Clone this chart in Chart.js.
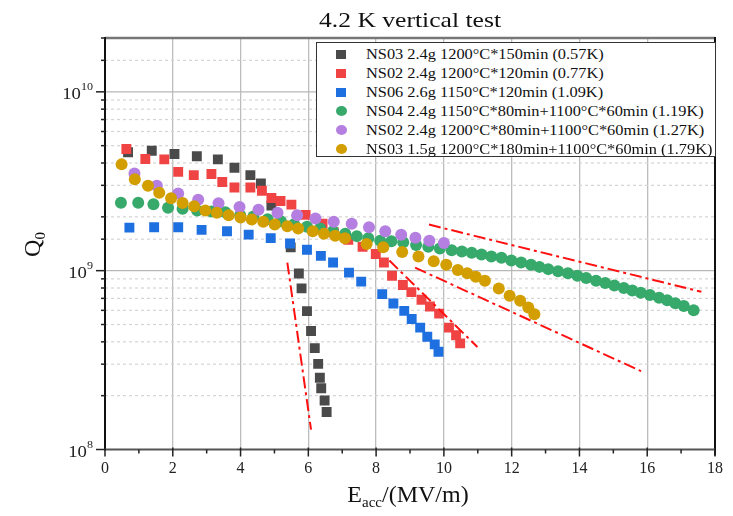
<!DOCTYPE html>
<html>
<head>
<meta charset="utf-8">
<script src="https://cdn.jsdelivr.net/npm/chart.js@4.4.0/dist/chart.umd.min.js"></script>
<style>
  body { margin: 0; background: #fff; }
  #wrap { position: relative; width: 733px; height: 516px; }
  #legend {
    position: absolute; left: 316px; top: 42px; width: 400px; height: 115px;
    border: 1px solid #333; background: #fff; box-sizing: border-box;
    font-family: "Liberation Serif", serif; font-size: 15px; color: #111;
    padding-top: 2px;
  }
  .row { position: relative; height: 19px; line-height: 19px; }
  .mk { position: absolute; left: 19px; top: 5px; width: 10px; height: 9px; }
  .mk.c { border-radius: 50%; width: 11px; height: 10px; top: 4px; }
  .tx { position: absolute; left: 49px; white-space: nowrap; transform: scaleX(1.09); transform-origin: left center; }
</style>
</head>
<body>
<div id="wrap">
  <canvas id="c" width="733" height="516"></canvas>
  <div id="legend"></div>
</div>
<script>
// ---- data ----
var labels = [
  'NS03 2.4g 1200°C*150min (0.57K)',
  'NS02 2.4g 1200°C*120min (0.77K)',
  'NS06 2.6g 1150°C*120min (1.09K)',
  'NS04 2.4g 1150°C*80min+1100°C*60min (1.19K)',
  'NS02 2.4g 1200°C*80min+1100°C*60min (1.27K)',
  'NS03 1.5g 1200°C*180min+1100°C*60min (1.79K)'
];
var colors = ['#4a4a4a', '#f04444', '#1e6fe0', '#36a96b', '#b47fe0', '#d39e00'];
var shapes = ['rect', 'rect', 'rect', 'circle', 'circle', 'circle'];

var ns03aE = [0.68, 1.38, 2.05, 2.71, 3.33, 3.82, 4.29, 4.60, 4.91, 5.48, 5.72, 5.80, 5.96, 6.08, 6.19, 6.29, 6.34, 6.38, 6.48, 6.54];
var ns03aQ = [4.59e9, 4.68e9, 4.49e9, 4.36e9, 4.19e9, 3.76e9, 3.42e9, 3.07e9, 2.31e9, 1.35e9, 9.65e8, 7.96e8, 5.94e8, 4.60e8, 3.69e8, 3.01e8, 2.52e8, 2.20e8, 1.88e8, 1.62e8];

var ns02aE = [0.63, 1.19, 1.75, 2.16, 2.62, 3.14, 3.46, 3.82, 4.29, 4.63, 4.91, 5.18, 5.50, 5.92, 6.42, 6.75, 7.18, 7.60, 7.99, 8.23, 8.47, 8.79, 9.04, 9.34, 9.59, 9.86, 10.15, 10.36, 10.48];
var ns02aQ = [4.79e9, 4.21e9, 4.19e9, 3.57e9, 3.42e9, 3.47e9, 3.13e9, 2.92e9, 2.92e9, 2.80e9, 2.55e9, 2.45e9, 2.34e9, 2.05e9, 1.83e9, 1.64e9, 1.49e9, 1.36e9, 1.24e9, 1.11e9, 9.37e8, 8.31e8, 7.59e8, 6.87e8, 6.30e8, 5.75e8, 4.80e8, 4.35e8, 3.92e8];

var ns06E = [0.72, 1.45, 2.16, 2.85, 3.60, 4.24, 4.89, 5.46, 5.96, 6.37, 6.73, 7.20, 7.56, 8.18, 8.51, 8.83, 9.05, 9.30, 9.51, 9.73, 9.84];
var ns06Q = [1.74e9, 1.75e9, 1.75e9, 1.69e9, 1.66e9, 1.59e9, 1.52e9, 1.42e9, 1.31e9, 1.21e9, 1.11e9, 9.75e8, 8.68e8, 7.39e8, 6.55e8, 5.96e8, 5.37e8, 4.80e8, 4.27e8, 3.87e8, 3.52e8];

var ns04E = [0.47, 0.98, 1.43, 1.86, 2.29, 2.72, 3.14, 3.55, 3.99, 4.38, 4.80, 5.19, 5.58, 5.96, 6.35, 6.73, 7.09, 7.43, 7.77, 8.12, 8.45, 8.80, 9.18, 9.54, 9.88, 10.23, 10.53, 10.82, 11.11, 11.40, 11.70, 11.99, 12.28, 12.57, 12.82, 13.08, 13.37, 13.66, 13.94, 14.20, 14.49, 14.76, 15.03, 15.31, 15.56, 15.81, 16.08, 16.35, 16.59, 16.83, 17.08, 17.37];
var ns04Q = [2.40e9, 2.40e9, 2.35e9, 2.25e9, 2.22e9, 2.17e9, 2.14e9, 2.12e9, 2.04e9, 2.01e9, 1.94e9, 1.89e9, 1.82e9, 1.76e9, 1.72e9, 1.66e9, 1.61e9, 1.56e9, 1.52e9, 1.47e9, 1.46e9, 1.44e9, 1.39e9, 1.36e9, 1.33e9, 1.30e9, 1.28e9, 1.26e9, 1.23e9, 1.20e9, 1.18e9, 1.14e9, 1.11e9, 1.08e9, 1.05e9, 1.02e9, 9.92e8, 9.66e8, 9.37e8, 9.10e8, 8.79e8, 8.53e8, 8.27e8, 7.99e8, 7.75e8, 7.52e8, 7.30e8, 7.05e8, 6.84e8, 6.58e8, 6.35e8, 6.01e8];

var ns02bE = [0.87, 1.53, 2.16, 2.75, 3.35, 3.97, 4.53, 5.09, 5.67, 6.21, 6.75, 7.28, 7.79, 8.27, 8.74, 9.16, 9.57, 10.0];
var ns02bQ = [3.49e9, 2.98e9, 2.70e9, 2.49e9, 2.38e9, 2.27e9, 2.19e9, 2.11e9, 2.04e9, 1.96e9, 1.88e9, 1.83e9, 1.75e9, 1.66e9, 1.59e9, 1.53e9, 1.47e9, 1.43e9];

var ns03bE = [0.49, 0.88, 1.27, 1.60, 1.95, 2.29, 2.63, 2.96, 3.30, 3.65, 4.00, 4.33, 4.67, 5.01, 5.38, 5.70, 6.13, 6.46, 6.79, 7.08, 7.72, 8.21, 8.77, 9.25, 9.70, 10.07, 10.41, 10.69, 10.94, 11.21, 11.62, 11.94, 12.25, 12.49, 12.67];
var ns03bQ = [3.93e9, 3.24e9, 2.98e9, 2.73e9, 2.54e9, 2.39e9, 2.29e9, 2.17e9, 2.11e9, 2.04e9, 1.98e9, 1.93e9, 1.88e9, 1.81e9, 1.77e9, 1.72e9, 1.66e9, 1.61e9, 1.57e9, 1.52e9, 1.41e9, 1.35e9, 1.27e9, 1.20e9, 1.13e9, 1.08e9, 1.01e9, 9.66e8, 9.26e8, 8.79e8, 7.96e8, 7.24e8, 6.78e8, 6.22e8, 5.71e8];

// dash-dot guide lines (start, end)
var fitE = [[5.38, 6.08], [8.39, 10.99], [9.15, 15.82], [9.56, 17.6]];
var fitQ = [[1.11e9, 1.29e8], [1.14e9, 3.74e8], [1.04e9, 2.74e8], [1.81e9, 7.62e8]];

var xTicks = [0, 2, 4, 6, 8, 10, 12, 14, 16, 18];

var seriesE = [ns03aE, ns02aE, ns06E, ns04E, ns02bE, ns03bE];
var seriesQ = [ns03aQ, ns02aQ, ns06Q, ns04Q, ns02bQ, ns03bQ];

function pts(E, Q) {
  return E.map(function (e, i) { return { x: e, y: Q[i] }; });
}

var datasets = [];
seriesE.forEach(function (E, i) {
  datasets.push({
    label: labels[i],
    data: pts(E, seriesQ[i]),
    pointStyle: shapes[i],
    pointRadius: shapes[i] == 'rect' ? 7 : 6,
    pointHoverRadius: 6,
    backgroundColor: colors[i],
    borderColor: colors[i],
    borderWidth: 0,
    order: 10 - i
  });
});
fitE.forEach(function (E, i) {
  datasets.push({
    label: 'fit' + i,
    data: pts(E, fitQ[i]),
    showLine: true,
    pointRadius: 0,
    borderColor: '#ff1010',
    borderWidth: 2,
    borderDash: [12, 4, 3, 4],
    order: 0
  });
});

var serif = '"Liberation Serif", "Times New Roman", serif';

function wideText(ctx, text, x, y, sx) {
  ctx.save();
  ctx.translate(x, y);
  ctx.scale(sx, 1);
  ctx.fillText(text, 0, 0);
  ctx.restore();
}

var decor = {
  id: 'decor',
  beforeDatasetsDraw: function (chart) {
    var ctx = chart.ctx, a = chart.chartArea, ys = chart.scales.y;
    ctx.save();
    ys.ticks.forEach(function (t) {
      var v = t.value, py = ys.getPixelForValue(v);
      var ex = Math.log10(v), major = Math.abs(ex - Math.round(ex)) < 1e-6;
      if (py < a.top + 1 || py > a.bottom - 1) return;
      ctx.beginPath();
      if (major) { ctx.setLineDash([]); ctx.strokeStyle = '#b8b8b8'; ctx.lineWidth = 1.3; }
      else { ctx.setLineDash([3, 3]); ctx.strokeStyle = '#d4d4d4'; ctx.lineWidth = 1.2; }
      ctx.moveTo(a.left, py); ctx.lineTo(a.right, py); ctx.stroke();
    });
    ctx.restore();
  },
  afterDraw: function (chart) {
    var ctx = chart.ctx, a = chart.chartArea, ys = chart.scales.y, xs = chart.scales.x;
    ctx.save();
    // frame
    ctx.strokeStyle = '#777'; ctx.lineWidth = 2.5;
    ctx.beginPath(); ctx.moveTo(a.left, a.top); ctx.lineTo(a.right, a.top); ctx.stroke();
    ctx.strokeStyle = '#111'; ctx.lineWidth = 2;
    ctx.beginPath(); ctx.moveTo(a.right, a.top - 1); ctx.lineTo(a.right, a.bottom + 6); ctx.stroke();
    ctx.beginPath(); ctx.moveTo(a.left, a.top - 1); ctx.lineTo(a.left, a.bottom + 1); ctx.stroke();
    ctx.strokeStyle = '#555'; ctx.lineWidth = 2.2;
    ctx.beginPath(); ctx.moveTo(a.left, a.bottom); ctx.lineTo(a.right, a.bottom); ctx.stroke();
    // x ticks
    ctx.strokeStyle = '#222'; ctx.lineWidth = 1.5;
    xs.ticks.forEach(function (t) {
      var px = xs.getPixelForValue(t.value), maj = t.value % 2 === 0;
      ctx.beginPath();
      ctx.moveTo(px, a.bottom - (maj ? 2 : 0));
      ctx.lineTo(px, a.bottom + (maj ? 7 : 4));
      ctx.stroke();
    });
    // y ticks and labels
    ys.ticks.forEach(function (t) {
      var v = t.value, py = ys.getPixelForValue(v);
      var ex = Math.log10(v), major = Math.abs(ex - Math.round(ex)) < 1e-6;
      ctx.beginPath();
      ctx.moveTo(a.left, py); ctx.lineTo(a.left - (major ? 9 : 4), py); ctx.stroke();
      if (major) {
        var sup = String(Math.round(ex));
        ctx.fillStyle = '#222';
        ctx.textBaseline = 'alphabetic';
        ctx.textAlign = 'left';
        ctx.font = '11px ' + serif;
        var sw = ctx.measureText(sup).width * 1.1;
        ctx.font = '17px ' + serif;
        var bw = ctx.measureText('10').width * 1.1;
        var right = a.left - 12;
        wideText(ctx, '10', right - sw - bw, py + 7, 1.1);
        ctx.font = '11px ' + serif;
        wideText(ctx, sup, right - sw, py - 2, 1.1);
      }
    });
    // title
    ctx.fillStyle = '#111';
    ctx.textAlign = 'left';
    ctx.font = '22px ' + serif;
    var tt = '4.2 K vertical test';
    var tw = ctx.measureText(tt).width, sx = 182 / tw;
    wideText(ctx, tt, (a.left + a.right) / 2 - 182 / 2, 27, sx);
    // x axis title E_acc/(MV/m)
    ctx.font = '24px ' + serif;
    var wE = ctx.measureText('E').width;
    var wR = ctx.measureText('/(MV/m)').width;
    ctx.font = '15px ' + serif;
    var wA = ctx.measureText('acc').width;
    var total = wE + wA + wR, x0 = (a.left + a.right) / 2 - total / 2 - 2;
    ctx.font = '24px ' + serif;
    ctx.fillText('E', x0, 502);
    ctx.font = '15px ' + serif;
    ctx.fillText('acc', x0 + wE, 507);
    ctx.font = '24px ' + serif;
    ctx.fillText('/(MV/m)', x0 + wE + wA, 502);
    // y axis title Q0
    ctx.save();
    ctx.translate(40, (a.top + a.bottom) / 2 + 1);
    ctx.rotate(-Math.PI / 2);
    ctx.font = '24px ' + serif;
    var wQ = ctx.measureText('Q').width;
    ctx.fillText('Q', -(wQ + 7) / 2, 0);
    ctx.font = '15px ' + serif;
    ctx.fillText('0', -(wQ + 7) / 2 + wQ, 5);
    ctx.restore();
    ctx.restore();
  }
};

new Chart(document.getElementById('c'), {
  type: 'scatter',
  data: { datasets: datasets },
  options: {
    responsive: false,
    animation: false,
    layout: { padding: { top: 38, right: 11, left: 0, bottom: 0 } },
    plugins: { legend: { display: false }, tooltip: { enabled: false } },
    scales: {
      x: {
        type: 'linear', min: 0, max: 18,
        afterFit: function (s) { s.height = 66.5; },
        afterBuildTicks: function (s) {
          var t = [];
          for (var v = 0; v <= 18; v++) t.push({ value: v });
          s.ticks = t;
        },
        ticks: {
          padding: 10,
          color: '#222',
          font: { family: serif, size: 16 },
          maxRotation: 0,
          autoSkip: false,
          callback: function (v) { return xTicks.indexOf(v) >= 0 ? String(v) : ''; }
        },
        grid: {
          drawTicks: false,
          color: function (c) {
            var v = c.tick && c.tick.value;
            return (v % 2 === 0 && v > 0 && v < 18) ? '#bdbdbd' : 'rgba(0,0,0,0)';
          },
          lineWidth: 1.3
        },
        border: { display: false }
      },
      y: {
        type: 'logarithmic', min: 1e8, max: 2e10,
        afterFit: function (s) { s.width = 105; },
        ticks: { display: false },
        grid: { display: false, drawTicks: false },
        border: { display: false }
      }
    }
  },
  plugins: [decor]
});

// legend
var lg = document.getElementById('legend');
labels.forEach(function (l, i) {
  var row = document.createElement('div');
  row.className = 'row';
  var mk = document.createElement('span');
  mk.className = 'mk' + (shapes[i] == 'circle' ? ' c' : '');
  mk.style.background = colors[i];
  var tx = document.createElement('span');
  tx.className = 'tx';
  tx.textContent = l;
  row.appendChild(mk); row.appendChild(tx);
  lg.appendChild(row);
});
</script>
</body>
</html>
